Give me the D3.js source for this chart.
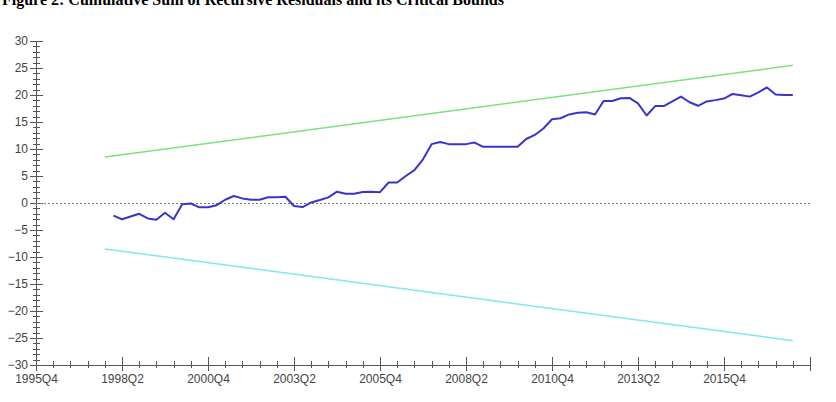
<!DOCTYPE html>
<html lang="en">
  <head>
    <meta charset="UTF-8" />
    <title>CUSUM and critical bounds</title>
    <script src="https://d3js.org/d3.v7.min.js"></script>
    <style>
      body {
        margin: 0;
        background: #fff;
      }
      .title {
        font-family: "Liberation Serif", "Times New Roman", serif;
        font-weight: bold;
        font-size: 16px;
        fill: #000;
      }
      .axis text {
        font-family: "Liberation Sans", Arial, sans-serif;
        font-size: 12px;
        fill: #444;
      }
      .axis path,
      .axis line {
        stroke: #555;
        stroke-width: 1px;
        shape-rendering: crispEdges;
      }
    </style>
  </head>
  <body>
    <svg id="chart" width="836" height="402"></svg>

    <script>
      // CUSUM of recursive residuals, 1998Q1 .. 2017Q4
      const firstQuarter = "1998Q1";
      const cusum = [
        -2.35, -3.0, -2.5, -2.0, -2.85, -3.1, -1.8, -3.0, -0.25, -0.1,
        -0.8, -0.8, -0.4, 0.6, 1.3, 0.85, 0.6, 0.6, 1.05, 1.05,
        1.15, -0.55, -0.75, 0.1, 0.55, 1.05, 2.1, 1.7, 1.7, 2.05,
        2.1, 2.0, 3.8, 3.8, 5.0, 6.1, 8.1, 10.9, 11.3, 10.9,
        10.9, 10.9, 11.2, 10.4, 10.4, 10.4, 10.4, 10.4, 11.85, 12.6,
        13.8, 15.5, 15.7, 16.4, 16.7, 16.8, 16.4, 18.9, 18.9, 19.4,
        19.45, 18.45, 16.2, 17.95, 17.95, 18.8, 19.7, 18.65, 18.0, 18.8,
        19.05, 19.35, 20.2, 19.95, 19.7, 20.5, 21.4, 20.1, 20.0, 20.0,
      ];

      // 5% critical bounds (straight lines), start and end points
      const boundQuarters = ["1997Q4", "2017Q4"];
      const upperBound = [8.5, 25.5];
      const lowerBound = [-8.5, -25.5];

      const xTickLabels = [
        "1995Q4", "1998Q2", "2000Q4", "2003Q2", "2005Q4",
        "2008Q2", "2010Q4", "2013Q2", "2015Q4", "",
      ];
      const yTicks = [30, 25, 20, 15, 10, 5, 0, -5, -10, -15, -20, -25, -30];

      // quarters counted from 1995Q4
      function qIndex(s) {
        const y = +s.slice(0, 4);
        const q = +s.slice(5);
        return (y - 1995) * 4 + (q - 4);
      }

      const start = qIndex(firstQuarter);
      const series = cusum.map((v, i) => ({ q: start + i, v: v }));
      const upper = boundQuarters.map((s, i) => ({ q: qIndex(s), v: upperBound[i] }));
      const lower = boundQuarters.map((s, i) => ({ q: qIndex(s), v: lowerBound[i] }));

      const svg = d3.select("#chart");

      svg
        .append("text")
        .attr("class", "title")
        .attr("x", 2)
        .attr("y", 5)
        .text("Figure 2: Cumulative Sum of Recursive Residuals and its Critical Bounds");

      const x = d3.scaleLinear().domain([0, 90]).range([36, 810]);
      const y = d3.scaleLinear().domain([-30, 30]).range([365, 41]);

      // y axis
      const yAxis = svg
        .append("g")
        .attr("class", "axis")
        .attr("transform", "translate(36,0)")
        .call(
          d3.axisLeft(y)
            .tickValues(d3.range(-30, 31, 1))
            .tickSize(0)
            .tickFormat((d) => (yTicks.includes(d) ? d3.format("")(d).replace("-", "\u2212") : ""))
        );
      yAxis.select(".domain").attr("d", "M0.5," + y(-30) + "V" + y(30));
      yAxis
        .selectAll(".tick line")
        .attr("x1", (d) => (d % 5 === 0 ? -6 : -3))
        .attr("x2", (d) => (d % 5 === 0 ? 7 : 4));
      yAxis.selectAll(".tick text").attr("x", -8);

      // x axis
      const xAxis = svg
        .append("g")
        .attr("class", "axis")
        .attr("transform", "translate(0," + y(-30) + ")")
        .call(
          d3.axisBottom(x)
            .tickValues(d3.range(0, 91, 2))
            .tickSize(0)
            .tickFormat((d) => (d % 10 === 0 ? xTickLabels[d / 10] : ""))
        );
      xAxis.select(".domain").attr("d", "M" + x(0) + ",0.5H" + x(90));
      xAxis
        .selectAll(".tick line")
        .attr("y1", (d) => (d % 10 === 0 ? -8 : -4))
        .attr("y2", (d) => (d % 10 === 0 ? 6 : 3));
      xAxis.selectAll(".tick text").attr("y", 9);

      // zero line
      svg
        .append("line")
        .attr("x1", x(0))
        .attr("x2", x(90))
        .attr("y1", y(0) + 0.5)
        .attr("y2", y(0) + 0.5)
        .attr("stroke", "#777")
        .attr("stroke-width", 1)
        .attr("stroke-dasharray", "2,2");

      const line = d3
        .line()
        .x((d) => x(d.q))
        .y((d) => y(d.v));

      svg
        .append("path")
        .datum(upper)
        .attr("fill", "none")
        .attr("stroke", "#7fe07f")
        .attr("stroke-width", 1.5)
        .attr("d", line);

      svg
        .append("path")
        .datum(lower)
        .attr("fill", "none")
        .attr("stroke", "#7fe8e8")
        .attr("stroke-width", 1.5)
        .attr("d", line);

      svg
        .append("path")
        .datum(series)
        .attr("fill", "none")
        .attr("stroke", "#3a35c8")
        .attr("stroke-width", 2)
        .attr("stroke-linejoin", "round")
        .attr("d", line);
    </script>
  </body>
</html>
